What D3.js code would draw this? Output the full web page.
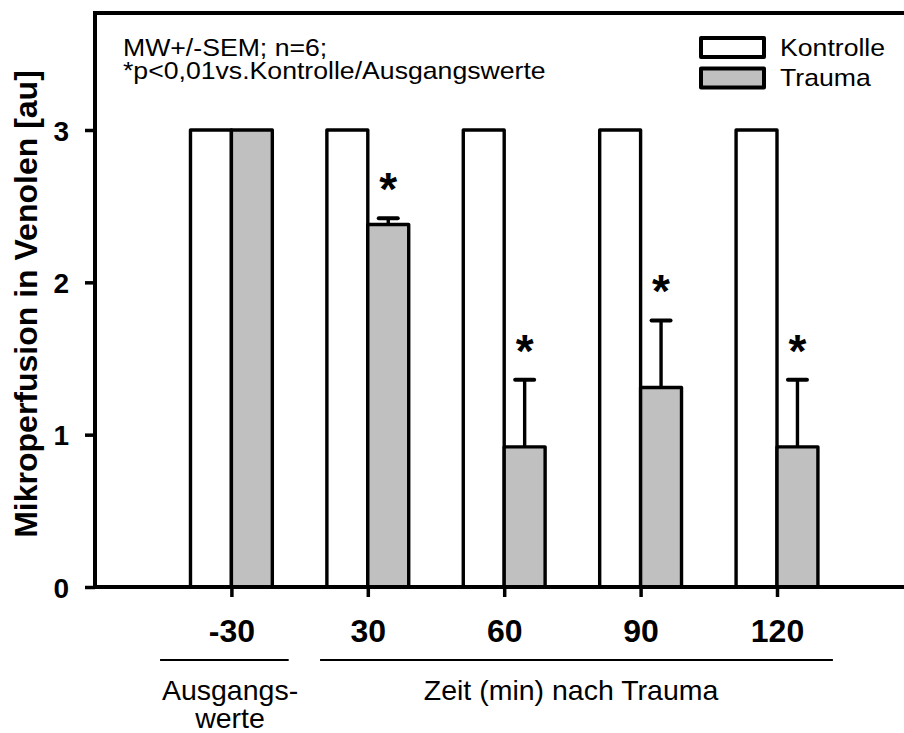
<!DOCTYPE html>
<html>
<head>
<meta charset="utf-8">
<script src="https://cdn.jsdelivr.net/npm/d3@7"></script>
<style>
  html, body { margin: 0; padding: 0; background: #fff; }
  svg { display: block; font-family: "Liberation Sans", Arial, Helvetica, sans-serif; }
</style>
</head>
<body>
<svg id="chart" width="904" height="733"></svg>
<script>
// ---- data ----
const categories = ["-30", "30", "60", "90", "120"];
const kontrolle = [3, 3, 3, 3, 3];
const trauma = [3, 2.38, 0.92, 1.31, 0.92];
const traumaSem = [0, 0.04, 0.44, 0.44, 0.44];
const significant = [false, true, true, true, true];
const yTicks = [0, 1, 2, 3];
const seriesNames = ["Kontrolle", "Trauma"];
const annotationLines = ["MW+/-SEM; n=6;", "*p<0,01vs.Kontrolle/Ausgangswerte"];
const yLabel = "Mikroperfusion in Venolen [au]";
const groupLabels = [["Ausgangs-", "werte"], ["Zeit (min) nach Trauma"]];

// ---- layout ----
const svg = d3.select("#chart");
const plotLeft = 95, plotTop = 13, plotBottom = 587;
const step = 136.4;
const x = d3.scaleLinear().domain([0, 6]).range([plotLeft, plotLeft + 6 * step]);
const y = d3.scaleLinear().domain([0, 3]).range([plotBottom, 130]);
const yTopVal = y.invert(plotTop);
const halfW = 0.3;
const colors = ["#ffffff", "#c0c0c0"];

const g = svg.append("g");
g.append("line").attr("x1", x(0) - 2).attr("x2", x(6)).attr("y1", y(yTopVal)).attr("y2", y(yTopVal))
  .attr("stroke", "#000").attr("stroke-width", 4);

// bars
const pos = categories.map((c, i) => i + 1);
g.selectAll("rect.k").data(kontrolle).join("rect").attr("class", "k")
  .attr("x", (d, i) => x(pos[i] - halfW))
  .attr("width", (d, i) => x(pos[i]) - x(pos[i] - halfW))
  .attr("y", d => y(d))
  .attr("height", d => y(0) - y(d))
  .attr("fill", colors[0]).attr("stroke", "#000").attr("stroke-width", 3.4)
  .attr("stroke-linejoin", "round");

// error bars (upper only)
const eb = g.append("g");
trauma.forEach((v, i) => {
  if (traumaSem[i] <= 0) return;
  const cx = x(pos[i] + halfW / 2);
  eb.append("line").attr("x1", cx).attr("x2", cx).attr("y1", y(v)).attr("y2", y(v + traumaSem[i]))
    .attr("stroke", "#000").attr("stroke-width", 3.4);
  eb.append("line").attr("x1", cx - 9.5).attr("x2", cx + 9.5)
    .attr("y1", y(v + traumaSem[i])).attr("y2", y(v + traumaSem[i]))
    .attr("stroke", "#000").attr("stroke-width", 4).attr("stroke-linecap", "round");
});

g.selectAll("rect.t").data(trauma).join("rect").attr("class", "t")
  .attr("x", (d, i) => x(pos[i]))
  .attr("width", (d, i) => x(pos[i] + halfW) - x(pos[i]))
  .attr("y", d => y(d))
  .attr("height", d => y(0) - y(d))
  .attr("fill", colors[1]).attr("stroke", "#000").attr("stroke-width", 3.4)
  .attr("stroke-linejoin", "round");

// asterisks
trauma.forEach((v, i) => {
  if (!significant[i]) return;
  g.append("text")
    .attr("x", x(pos[i] + halfW / 2))
    .attr("y", y(v + traumaSem[i]) - 13)
    .attr("text-anchor", "middle")
    .attr("font-size", 46).attr("font-weight", "bold")
    .text("*");
});

// y axis
const yAxis = d3.axisLeft(y).tickValues(yTicks).tickSize(10).tickFormat(d3.format("d"));
const ya = g.append("g").attr("transform", `translate(${plotLeft},0)`).call(yAxis);
ya.select(".domain").remove();
ya.selectAll(".tick line").attr("stroke", "#000").attr("stroke-width", 3.5);
ya.selectAll(".tick text").attr("font-size", 28).attr("font-weight", "bold")
  .attr("font-family", "Liberation Sans, Arial, sans-serif").attr("fill", "#000")
  .attr("x", -26).attr("dy", "0.36em");
g.append("line").attr("x1", plotLeft).attr("x2", plotLeft).attr("y1", plotTop - 2).attr("y2", plotBottom + 2)
  .attr("stroke", "#000").attr("stroke-width", 4);

// x axis
const xAxis = d3.axisBottom(x).tickValues(pos).tickSize(10).tickFormat((d, i) => categories[i]);
const xa = g.append("g").attr("transform", `translate(0,${plotBottom})`).call(xAxis);
xa.select(".domain").remove();
xa.selectAll(".tick line").attr("stroke", "#000").attr("stroke-width", 3.5);
xa.selectAll(".tick text").attr("font-size", 32).attr("font-weight", "bold")
  .attr("font-family", "Liberation Sans, Arial, sans-serif").attr("fill", "#000")
  .attr("y", 0).attr("dy", "55");
g.append("line").attr("x1", plotLeft - 2).attr("x2", x(6)).attr("y1", plotBottom).attr("y2", plotBottom)
  .attr("stroke", "#000").attr("stroke-width", 4);

// group brackets below axis
const groupSpans = [[0.477, 1.42], [1.65, 5.41]];
const groupTextX = [0.99, 3.49];
groupSpans.forEach((s, i) => {
  g.append("line").attr("x1", x(s[0])).attr("x2", x(s[1])).attr("y1", 660).attr("y2", 660)
    .attr("stroke", "#000").attr("stroke-width", 2);
  groupLabels[i].forEach((t, j) => {
    g.append("text").attr("x", x(groupTextX[i])).attr("y", 700 + j * 28)
      .attr("text-anchor", "middle").attr("font-size", 28.5).text(t);
  });
});

// y label
g.append("text")
  .attr("transform", `translate(37,304) rotate(-90)`)
  .attr("text-anchor", "middle").attr("font-size", 32).attr("font-weight", "bold")
  .text(yLabel);

// annotation (top-left)
annotationLines.forEach((t, i) => {
  g.append("text").attr("transform", `translate(123,${56 + i * 23.2}) scale(1.11,1)`)
    .attr("font-size", 24).text(t);
});

// legend
seriesNames.forEach((n, i) => {
  const ly = 38 + i * 30.5;
  g.append("rect").attr("x", 701).attr("y", ly).attr("width", 63).attr("height", 19)
    .attr("fill", colors[i]).attr("stroke", "#000").attr("stroke-width", 4)
    .attr("stroke-linejoin", "round");
  g.append("text").attr("transform", `translate(780,${ly + 17.5}) scale(1.11,1)`)
    .attr("font-size", 24).text(n);
});
</script>
</body>
</html>
